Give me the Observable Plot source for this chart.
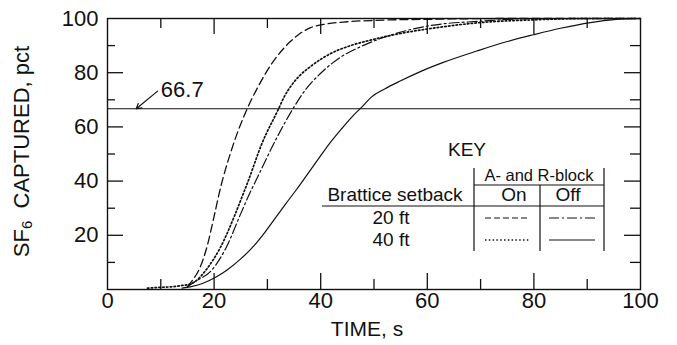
<!DOCTYPE html>
<html><head><meta charset="utf-8">
<script src="https://cdn.jsdelivr.net/npm/d3@7"></script>
<script src="https://cdn.jsdelivr.net/npm/@observablehq/plot@0.6"></script>
<style>body{margin:0;background:#fff}</style>
</head><body><div id="chart"></div>
<script>
// ---- data ----
const xTickLabels = [0, 20, 40, 60, 80, 100];
const yTickLabels = [20, 40, 60, 80, 100];
const majorTicks = [20, 40, 60, 80];
const minorTicks = [10, 30, 50, 70, 90];
const target = 66.7;
const targetLabel = "66.7";

// 20 ft, A- and R-block On (dashed)
const on20X = [15, 15.9, 17.1, 18.7, 20, 21.2, 23.1, 24.5, 26.2, 28.3, 30.2, 32, 34.3, 36, 38.1, 40.5, 45, 50, 60, 75, 100];
const on20Y = [1, 3.3, 7, 16, 27, 37.5, 50.5, 58.5, 66.7, 75, 81.5, 86.5, 91.5, 94.3, 96.6, 97.8, 98.8, 99.3, 99.7, 100, 100];
// 40 ft, On (dotted)
const on40X = [7.5, 10, 12, 14, 15.5, 16.5, 18.4, 21.2, 24, 25.5, 26.2, 29, 32.1, 33.2, 34.5, 36, 38.1, 41.8, 45.6, 49.3, 55, 60.6, 70, 80, 90, 100];
const on40Y = [0.5, 0.8, 1, 1.5, 2, 3, 7, 15.6, 28, 35.5, 39, 54, 66.7, 71.3, 75.3, 78.8, 82.3, 87, 90, 92, 94.5, 96.3, 98.5, 99.5, 100, 100];
// 20 ft, Off (dash-dot)
const off20X = [15, 16.5, 19.5, 22.3, 25, 26.8, 27.8, 31.5, 34.8, 37.1, 40, 43.7, 47.5, 51.2, 56.2, 60.6, 70, 80, 100];
const off20Y = [1, 3, 7, 15.6, 28, 36, 40, 55, 66.7, 73.6, 79.8, 85.7, 89.6, 92.6, 95.6, 97.4, 99, 100, 100];
// 40 ft, Off (solid)
const off40X = [14, 15.5, 17.8, 20.3, 22.5, 25, 27.5, 29.6, 31.5, 33.4, 35.5, 37.5, 39.5, 41.5, 44, 46, 47.8, 49.5, 52, 55, 58.7, 63, 69.3, 75, 79.9, 85, 90.6, 95, 100];
const off40Y = [0.5, 1, 2.2, 4.5, 7.3, 11.3, 16.2, 21.3, 26.4, 31.5, 37, 42.5, 48, 53.5, 59.5, 64, 67.5, 71, 74, 77, 80.4, 83.8, 88, 91.5, 94, 96.4, 98.5, 99.6, 100];

const arrowFrom = [9.4, 73.2];
const arrowTo = [5.4, 66.7];

// ---- build ----
const toRows = (xs, ys) => xs.map((x, i) => ({x, y: ys[i]}));
const W = 677, H = 345;
const M = {top: 18, right: 37, bottom: 56, left: 107};
const iW = W - M.left - M.right, iH = H - M.top - M.bottom;
const font = "Liberation Sans, Arial, sans-serif";
const ink = "#111";

const plot = Plot.plot({
  width: W, height: H,
  marginTop: M.top, marginRight: M.right, marginBottom: M.bottom, marginLeft: M.left,
  style: {fontFamily: font, background: "white", color: ink},
  x: {domain: [0, 100], axis: null},
  y: {domain: [0, 100], axis: null},
  marks: [
    Plot.frame({stroke: ink, strokeWidth: 1.4}),
    // inward ticks: bottom
    Plot.tickX(majorTicks, {x: d => d, insetTop: iH - 16, stroke: ink, strokeWidth: 1.3}),
    Plot.tickX(minorTicks, {x: d => d, insetTop: iH - 10, stroke: ink, strokeWidth: 1.3}),
    // top
    Plot.tickX(majorTicks, {x: d => d, insetBottom: iH - 16, stroke: ink, strokeWidth: 1.3}),
    Plot.tickX(minorTicks, {x: d => d, insetBottom: iH - 10, stroke: ink, strokeWidth: 1.3}),
    // left
    Plot.tickY(majorTicks, {y: d => d, insetRight: iW - 16, stroke: ink, strokeWidth: 1.3}),
    Plot.tickY(minorTicks, {y: d => d, insetRight: iW - 8, stroke: ink, strokeWidth: 1.3}),
    // right
    Plot.tickY(majorTicks, {y: d => d, insetLeft: iW - 16, stroke: ink, strokeWidth: 1.3}),
    Plot.tickY(minorTicks, {y: d => d, insetLeft: iW - 10, stroke: ink, strokeWidth: 1.3}),
    // tick labels
    Plot.text(xTickLabels, {x: d => d, frameAnchor: "bottom", dy: 18.5, text: d => String(d), fontSize: 22, fill: ink}),
    Plot.text(yTickLabels, {y: d => d, frameAnchor: "left", textAnchor: "end", dx: -9, text: d => String(d), fontSize: 22, fill: ink}),
    // x title
    Plot.text(["TIME, s"], {frameAnchor: "bottom", dy: 46, dx: -7, text: d => d, fontSize: 21, fill: ink}),
    // 66.7 reference line
    Plot.ruleY([target], {stroke: ink, strokeWidth: 1.2}),
    Plot.arrow([{x1: arrowFrom[0], y1: arrowFrom[1], x2: arrowTo[0], y2: arrowTo[1]}],
      {x1: "x1", y1: "y1", x2: "x2", y2: "y2", stroke: ink, strokeWidth: 1.2, headLength: 7, bend: false}),
    Plot.text([targetLabel], {x: arrowFrom[0] + 0.6, y: arrowFrom[1] + 0.3, text: d => d, textAnchor: "start", fontSize: 22, fill: ink}),
    // curves
    Plot.line(toRows(on20X, on20Y), {x: "x", y: "y", curve: "monotone-x", stroke: ink, strokeWidth: 1.3, strokeDasharray: "8,4"}),
    Plot.line(toRows(on40X, on40Y), {x: "x", y: "y", curve: "monotone-x", stroke: ink, strokeWidth: 1.7, strokeDasharray: "1.5,2.3"}),
    Plot.line(toRows(off20X, off20Y), {x: "x", y: "y", curve: "monotone-x", stroke: ink, strokeWidth: 1.2, strokeDasharray: "10,3,2,3"}),
    Plot.line(toRows(off40X, off40Y), {x: "x", y: "y", curve: "monotone-x", stroke: ink, strokeWidth: 1.2})
  ]
});
document.getElementById("chart").appendChild(plot);

// ---- y title with subscript ----
const svg = d3.select(plot);
const yt = svg.append("text")
  .attr("transform", `translate(23,${M.top + iH / 2 - 2}) rotate(-90)`)
  .attr("text-anchor", "middle").attr("dominant-baseline", "middle")
  .attr("font-family", font).attr("font-size", 22).attr("fill", ink);
yt.append("tspan").text("SF");
yt.append("tspan").attr("font-size", 15).attr("dy", 5).text("6");
yt.append("tspan").attr("dy", -5).text("\u00a0\u00a0CAPTURED, pct");

// ---- key (table legend) ----
const g = svg.append("g").attr("font-family", font).attr("fill", ink);
const txt = (s, x, y, size, anchor = "middle") =>
  g.append("text").attr("x", x).attr("y", y).attr("font-size", size)
   .attr("text-anchor", anchor).attr("dominant-baseline", "middle").text(s);
const ln = (x1, y1, x2, y2, dash, w = 1.2) =>
  g.append("line").attr("x1", x1).attr("y1", y1).attr("x2", x2).attr("y2", y2)
   .attr("stroke", ink).attr("stroke-width", w).attr("stroke-dasharray", dash || null);

txt("KEY", 467, 151, 19);
txt("A- and R-block", 539, 177, 16.5);
txt("Brattice setback", 395, 196, 19);
txt("On", 514, 196, 19);
txt("Off", 568, 196, 19);
txt("20 ft", 391, 219, 19);
txt("40 ft", 391, 241, 19);
ln(474, 185, 604, 185);
ln(322, 206, 604, 206);
ln(474, 168, 474, 251);
ln(540, 185, 540, 251);
ln(604, 168, 604, 251);
ln(485, 218, 530, 218, "6,3", 1.2);
ln(549, 218, 595, 218, "10,3,2,3", 1.2);
ln(485, 240, 530, 240, "1.5,2.3", 1.6);
ln(549, 240, 595, 240, null, 1.2);
</script>
</body></html>
